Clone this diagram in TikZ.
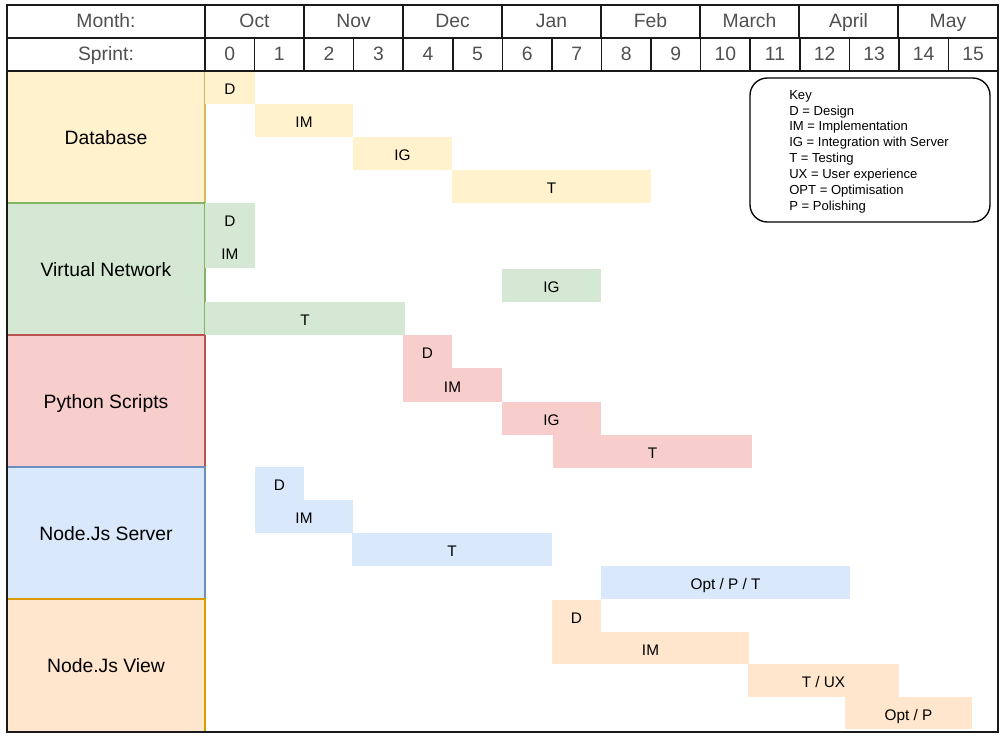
\documentclass[tikz,border=0pt]{standalone}
\usepackage{fontspec}
\setmainfont{Liberation Sans}
\definecolor{yfill}{HTML}{FFF2CC}\definecolor{ystroke}{HTML}{D6B656}
\definecolor{gfill}{HTML}{D5E8D4}\definecolor{gstroke}{HTML}{82B366}
\definecolor{rfill}{HTML}{F8CECC}\definecolor{rstroke}{HTML}{B85450}
\definecolor{bfill}{HTML}{DAE8FC}\definecolor{bstroke}{HTML}{6C8EBF}
\definecolor{ofill}{HTML}{FFE6CC}\definecolor{ostroke}{HTML}{D79B00}
\definecolor{hdrtext}{HTML}{505050}
\definecolor{gridline}{HTML}{1A1A1A}
% #1 style, #2 name, #3 x1, #4 y1, #5 x2, #6 y2 (pixels), #7 text
\newcommand\boxat[7]{%
  \pgfmathsetmacro\bw{(#5-#3)*0.75}%
  \pgfmathsetmacro\bh{(#6-#4)*0.75}%
  \node[#1, minimum width=\bw pt, minimum height=\bh pt] (#2) at ({(#3+#5)/2},{(#4+#6)/2}) {#7};}
\begin{document}
\begin{tikzpicture}[x=0.75pt,y={(0pt,-0.75pt)},
  hdr/.style={text height=0.95em, text depth=0pt, draw=gridline, line width=1.2pt, inner sep=0pt, outer sep=0pt, text=hdrtext, font=\fontsize{14.5}{17}\selectfont},
  lbl/.style={text height=1.12em, text depth=0pt, line width=0.8pt, inner sep=0pt, outer sep=0pt, font=\fontsize{14.5}{17}\selectfont},
  gbar/.style={text height=1.12em, text depth=0pt, inner sep=0pt, outer sep=0pt, font=\fontsize{11.5}{13}\selectfont},
  keybox/.style={draw=black, line width=1pt, rounded corners=13pt, inner sep=0pt}]
\useasboundingbox (0,0) rectangle (1003,738);
\fill[white] (0,0) rectangle (1003,738);
% row labels
\boxat{lbl, fill=yfill, draw=ystroke}{db}{7}{71}{205}{203}{Database}
\boxat{lbl, fill=gfill, draw=gstroke}{vn}{7}{203}{205}{335}{Virtual Network}
\boxat{lbl, fill=rfill, draw=rstroke}{py}{7}{335}{205}{467}{Python Scripts}
\boxat{lbl, fill=bfill, draw=bstroke}{ns}{7}{467}{205}{599}{Node.Js Server}
\boxat{lbl, fill=ofill, draw=ostroke}{nv}{7}{599}{205}{732}{Node.Js View}
% Database bars
\boxat{gbar, fill=yfill}{dbD}{205}{71}{255}{104}{D}
\boxat{gbar, fill=yfill}{dbIM}{255}{104}{353}{137}{IM}
\boxat{gbar, fill=yfill}{dbIG}{353}{137}{452}{170}{IG}
\boxat{gbar, fill=yfill}{dbT}{452}{170}{651}{203}{T}
% Virtual network bars
\boxat{gbar, fill=gfill}{vnD}{205}{203}{255}{236}{D}
\boxat{gbar, fill=gfill}{vnIM}{205}{236}{255}{268}{IM}
\boxat{gbar, fill=gfill}{vnIG}{502}{269}{601}{302}{IG}
\boxat{gbar, fill=gfill}{vnT}{205}{302}{405}{335}{T}
% Python bars
\boxat{gbar, fill=rfill}{pyD}{403}{335}{452}{368}{D}
\boxat{gbar, fill=rfill}{pyIM}{403}{368}{502}{402}{IM}
\boxat{gbar, fill=rfill}{pyIG}{502}{402}{601}{435}{IG}
\boxat{gbar, fill=rfill}{pyT}{553}{435}{752}{468}{T}
% Node server bars
\boxat{gbar, fill=bfill}{nsD}{255}{467}{304}{500}{D}
\boxat{gbar, fill=bfill}{nsIM}{255}{500}{353}{533}{IM}
\boxat{gbar, fill=bfill}{nsT}{352}{533}{552}{566}{T}
\boxat{gbar, fill=bfill}{nsO}{601}{566}{850}{599}{Opt / P / T}
% Node view bars
\boxat{gbar, fill=ofill}{nvD}{552}{600}{601}{632}{D}
\boxat{gbar, fill=ofill}{nvIM}{552}{632}{749}{664}{IM}
\boxat{gbar, fill=ofill}{nvT}{748}{664}{899}{697}{T / UX}
\boxat{gbar, fill=ofill}{nvO}{845}{697}{972}{729}{Opt / P}
% header
\boxat{hdr}{hmonth}{7}{5}{205}{38}{Month:}
\boxat{hdr}{mOct}{205}{5}{304}{38}{Oct}
\boxat{hdr}{mNov}{304}{5}{403}{38}{Nov}
\boxat{hdr}{mDec}{403}{5}{502}{38}{Dec}
\boxat{hdr}{mJan}{502}{5}{601}{38}{Jan}
\boxat{hdr}{mFeb}{601}{5}{700}{38}{Feb}
\boxat{hdr}{mMar}{700}{5}{799}{38}{March}
\boxat{hdr}{mApr}{799}{5}{898}{38}{April}
\boxat{hdr}{mMay}{898}{5}{998}{38}{May}
\boxat{hdr}{hsprint}{7}{38}{205}{71}{Sprint:}
\foreach \i in {0,...,15}{
  \pgfmathsetmacro\xa{205+\i*49.5625}
  \pgfmathsetmacro\xb{205+(\i+1)*49.5625}
  \boxat{hdr}{s\i}{\xa}{38}{\xb}{71}{\i}
}
% outer frame
\draw[gridline, line width=1.2pt] (7,5) rectangle (998,732);
% key
\boxat{keybox}{key}{750}{78}{990}{222}{}
\node[anchor=north west, inner sep=0pt, align=left, font=\fontsize{9.8}{11.9}\selectfont] (keytext) at (789,90)
{Key\\D = Design\\IM = Implementation\\IG = Integration with Server\\T = Testing\\UX = User experience\\OPT = Optimisation\\P = Polishing};
\end{tikzpicture}
\end{document}
